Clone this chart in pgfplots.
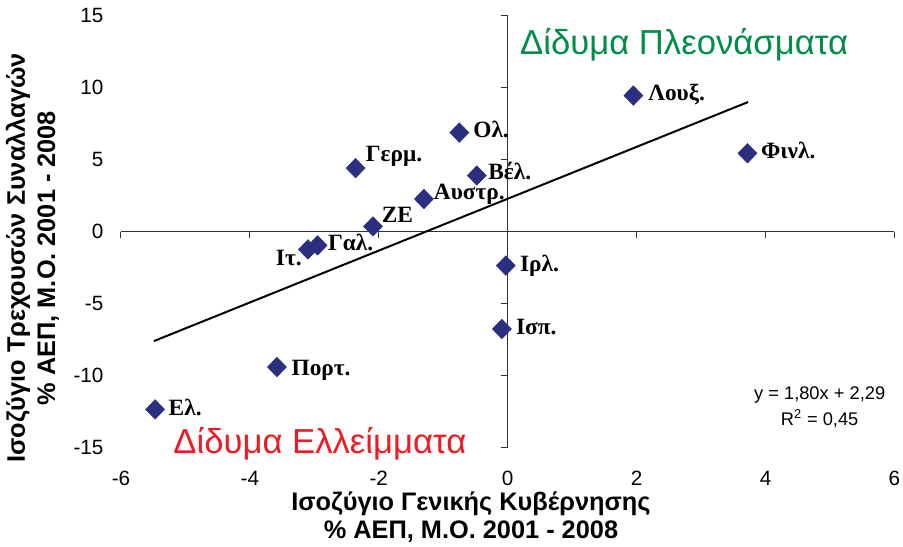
\documentclass[border=0pt]{standalone}
\usepackage{fontspec}
\setmainfont{Liberation Sans}
\newfontfamily\serifgr{Liberation Serif}
\usepackage{pgfplots}
\pgfplotsset{compat=1.18}
\definecolor{navy}{RGB}{43,47,128}
\definecolor{surplus}{RGB}{0,142,72}
\definecolor{deficit}{RGB}{237,28,36}

\pgfplotsset{
  common/.style={
    scale only axis, width=580pt, height=324.2pt,
    xmin=-6, xmax=6, ymin=-15, ymax=15,
    xtick={-6,-4,-2,0,2,4,6}, ytick={-15,-10,-5,0,5,10,15},
    clip=false,
  },
}
\tikzset{
  lab/.style={font=\serifgr\bfseries\fontsize{17.5}{20}\selectfont, inner sep=0pt},
  axlab/.style={font=\bfseries\fontsize{19}{22}\selectfont, anchor=base, inner sep=0pt},
}

\begin{document}
\begin{tikzpicture}
% tick labels at the bottom and at the left, as in the spreadsheet chart
\begin{axis}[common,
  axis lines=left, axis line style={draw=none},
  major tick length=0pt, tick style={draw=none},
  xticklabels={-6,-4,-2,0,2,4,6},
  yticklabels={-15,-10,-5,0,5,10,15},
  tick label style={font=\fontsize{15.5}{18}\selectfont, inner sep=0pt},
  xticklabel style={anchor=north, yshift=-17pt},
  yticklabel style={anchor=east, xshift=-13pt},
]
\addplot[draw=none] coordinates {(0,0)};
\end{axis}
% axes crossing at the origin, data and labels
\begin{axis}[common,
  axis lines=middle, axis line style={-, line width=0.75pt, black!80},
  tick style={line width=0.75pt, black!80}, major tick length=5pt,
  tick align=outside,
  xticklabels={}, yticklabels={},
]
\path (axis cs:-7.877,16.08) rectangle (axis cs:6.133,-21.81);
\addplot[black, line width=1.5pt] coordinates {(-5.49,-7.59) (3.73,9.00)};
\addplot[only marks, mark=diamond*, mark size=7.3pt, color=navy,
  mark options={xscale=1.3}] coordinates {
  (-5.47,-12.33) (-3.58,-9.39) (-3.10,-1.23) (-2.95,-0.95) (-2.09,0.37)
  (-2.36,4.41) (-1.30,2.27) (-0.75,6.88) (-0.48,3.90) (-0.03,-2.35)
  (-0.09,-6.75) (1.95,9.45) (3.72,5.44)
};
\node[lab, anchor=base west, xshift=10pt, yshift=-4.5pt] at (axis cs:-5.47,-12.33) {Ελ.};
\node[lab, anchor=base west, xshift=10.8pt, yshift=-6.2pt] at (axis cs:-3.58,-9.39) {Πορτ.};
\node[lab, anchor=base east, xshift=-4.5pt, yshift=-11.8pt] at (axis cs:-3.10,-1.23) {Ιτ.};
\node[lab, anchor=base west, xshift=7.7pt, yshift=-4pt] at (axis cs:-2.95,-0.95) {Γαλ.};
\node[lab, anchor=base west, xshift=6.5pt, yshift=2.7pt] at (axis cs:-2.09,0.37) {ΖΕ};
\node[lab, anchor=base west, xshift=7.5pt, yshift=5pt] at (axis cs:-2.36,4.41) {Γερμ.};
\node[lab, anchor=base west, xshift=7.3pt, yshift=0pt] at (axis cs:-1.30,2.27) {Αυστρ.};
\node[lab, anchor=base west, xshift=10.3pt, yshift=-3.5pt] at (axis cs:-0.75,6.88) {Ολ.};
\node[lab, anchor=base west, xshift=8.5pt, yshift=-3.2pt] at (axis cs:-0.48,3.90) {Βέλ.};
\node[lab, anchor=base west, xshift=10.5pt, yshift=-4.5pt] at (axis cs:-0.03,-2.35) {Ιρλ.};
\node[lab, anchor=base west, xshift=10.5pt, yshift=-4pt] at (axis cs:-0.09,-6.75) {Ισπ.};
\node[lab, anchor=base west, xshift=11pt, yshift=-3.8pt] at (axis cs:1.95,9.45) {Λουξ.};
\node[lab, anchor=base west, xshift=10pt, yshift=-3.9pt] at (axis cs:3.72,5.44) {Φινλ.};
\node[surplus, font=\fontsize{26}{30}\selectfont, anchor=base west, inner sep=0pt] at (axis cs:0.19,12.29) {Δίδυμα Πλεονάσματα};
\node[deficit, font=\fontsize{26}{30}\selectfont, anchor=base west, inner sep=0pt] at (axis cs:-5.19,-15.37) {Δίδυμα Ελλείμματα};
\node[font=\fontsize{13.7}{16}\selectfont, anchor=base, inner sep=0pt] at (axis cs:4.84,-11.63) {y = 1,80x + 2,29};
\node[font=\fontsize{13.7}{16}\selectfont, anchor=base, inner sep=0pt] at (axis cs:4.84,-13.44) {R\textsuperscript{2} = 0,45};
\node[axlab] at (axis cs:-0.57,-19.36) {Ισοζύγιο Γενικής Κυβέρνησης};
\node[axlab] at (axis cs:-0.57,-21.30) {\% ΑΕΠ, Μ.Ο. 2001 - 2008};
\node[axlab, rotate=90] at (axis cs:-7.49,-1.83) {Ισοζύγιο Τρεχουσών Συναλλαγών};
\node[axlab, rotate=90] at (axis cs:-7.02,-1.83) {\% ΑΕΠ, Μ.Ο. 2001 - 2008};
\end{axis}
\end{tikzpicture}
\end{document}
